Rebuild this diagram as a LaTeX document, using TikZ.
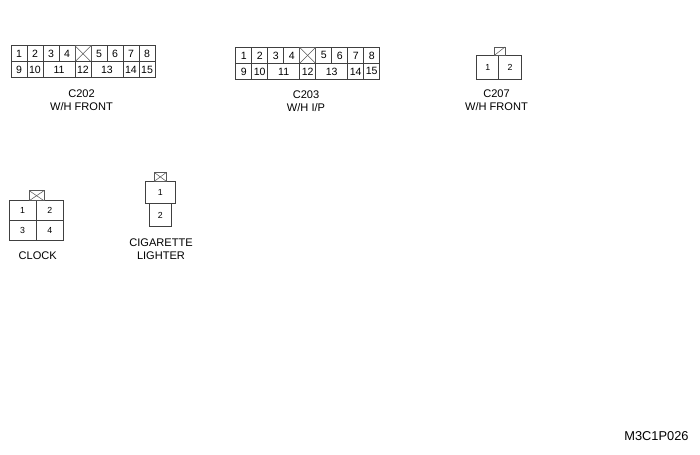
\documentclass[tikz,border=0pt]{standalone}
\usepackage{fontspec}
\setmainfont{Liberation Sans}
\tikzset{
  partcell/.style={draw=black!75, line width=0.35pt, inner sep=0pt, outer sep=0pt, font=\fontsize{6}{7}\selectfont},
  smallcell/.style={partcell, font=\fontsize{5}{6}\selectfont},
  lockcell/.style={draw=black!65, line width=0.3pt, inner sep=0pt, outer sep=0pt},
  partlabel/.style={align=center, inner sep=0pt, font=\fontsize{6.3}{7.7}\selectfont},
}
\begin{document}
\begin{tikzpicture}[x=0.02cm,y=-0.02cm]
  \useasboundingbox (0,0) rectangle (700,455);

  % two long connectors, same layout
  \foreach \conn/\dx/\dy in {wa/0/0,wb/224.7/1.7}{
    \begin{scope}[shift={(\dx,\dy)}]
      \foreach \num/\xc/\w in {1/19/16,2/35/16,3/51/16,4/67/16,5/99/16,6/115/16,7/131/16,8/147/16}
        \node[partcell, minimum width=\w*0.02cm, minimum height=0.32cm] (\conn top\num) at (\xc,53.7) {\num};
      \node[lockcell, minimum width=0.32cm, minimum height=0.32cm] (\conn lock) at (83,53.7) {};
      \draw[black!65, line width=0.3pt] (\conn lock.north west) -- (\conn lock.south east);
      \draw[black!65, line width=0.3pt] (\conn lock.south west) -- (\conn lock.north east);
      \foreach \num/\xc/\w in {9/19/16,10/35/16,11/59/32,12/83/16,13/107/32,14/131/16,15/147/16}
        \node[partcell, minimum width=\w*0.02cm, minimum height=0.32cm] (\conn low\num) at (\xc,69.7) {\num};
    \end{scope}
  }
  \node[partlabel] (wafront) at (81.5,100) {C202\\W/H FRONT};
  \node[partlabel] (wbpanel) at (306,101.3) {C203\\W/H I/P};

  % C207
  \node[smallcell, minimum width=0.44cm, minimum height=0.466cm] (fa) at (487.7,67.3) {1};
  \node[smallcell, minimum width=0.452cm, minimum height=0.466cm] (fb) at (510,67.3) {2};
  \node[lockcell, minimum width=0.22cm, minimum height=0.174cm] (flock) at (499.5,51.3) {};
  \draw[black!65, line width=0.3pt] (flock.south west) -- (flock.north east);
  \node[partlabel] (ffront) at (496.5,100) {C207\\W/H FRONT};

  % clock
  \foreach \num/\xc/\yc in {1/22.6/210.7,2/49.7/210.7,3/22.6/230.7,4/49.7/230.7}
    \node[smallcell, minimum width=0.54cm, minimum height=0.4cm] (clock\num) at (\xc,\yc) {\num};
  \node[lockcell, minimum width=0.294cm, minimum height=0.2cm] (clocklock) at (36.6,195.7) {};
  \draw[black!65, line width=0.3pt] (clocklock.north west) -- (clocklock.south east);
  \draw[black!65, line width=0.3pt] (clocklock.south west) -- (clocklock.north east);
  \node[partlabel] (clocktext) at (37.7,255.3) {CLOCK};

  % lighter
  \node[smallcell, minimum width=0.6cm, minimum height=0.446cm] (lighta) at (160.3,192.2) {1};
  \node[smallcell, minimum width=0.44cm, minimum height=0.468cm] (lightb) at (160.3,215) {2};
  \node[lockcell, minimum width=0.226cm, minimum height=0.166cm] (lightlock) at (160.3,176.9) {};
  \draw[black!65, line width=0.3pt] (lightlock.north west) -- (lightlock.south east);
  \draw[black!65, line width=0.3pt] (lightlock.south west) -- (lightlock.north east);
  \node[partlabel] (lighttext) at (161,249.3) {CIGARETTE\\LIGHTER};

  \node[partlabel, font=\fontsize{7.3}{8}\selectfont] (drawno) at (656.5,436) {M3C1P026};
\end{tikzpicture}
\end{document}
